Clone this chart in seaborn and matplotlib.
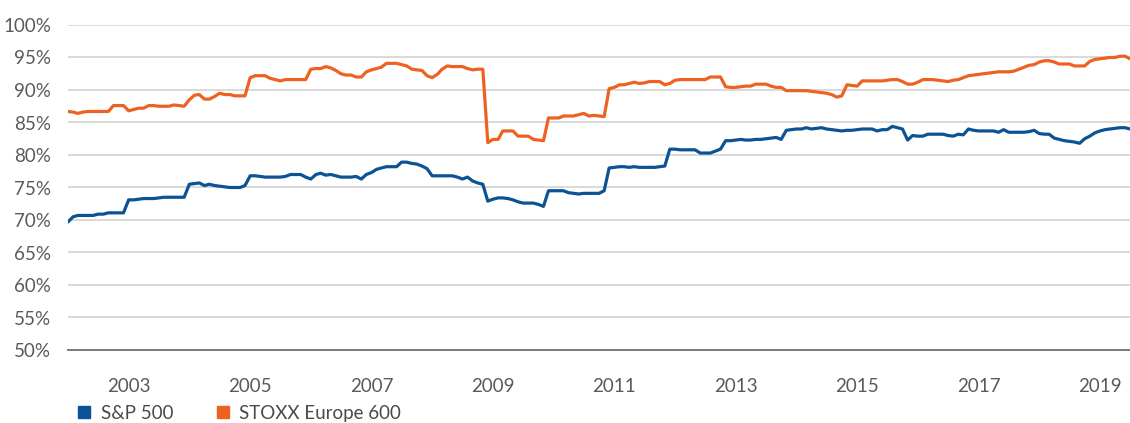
import matplotlib
matplotlib.use("Agg")
import matplotlib.pyplot as plt
import matplotlib.dates as mdates
from matplotlib.lines import Line2D
from matplotlib.ticker import FuncFormatter
import seaborn as sns
import pandas as pd

# monthly observations, Jan 2002 - Jul 2019 (share, %)
months = pd.date_range("2002-01-01", periods=211, freq="MS")

sp500 = [
    69.7, 70.5, 70.7, 70.7, 70.7, 70.7, 70.9, 70.9, 71.1, 71.1, 71.1, 71.1,  # 2002
    73.1, 73.1, 73.2, 73.3, 73.3, 73.3, 73.4, 73.5, 73.5, 73.5, 73.5, 73.5,  # 2003
    75.5, 75.6, 75.7, 75.3, 75.5, 75.3, 75.2, 75.1, 75.0, 75.0, 75.0, 75.3,  # 2004
    76.8, 76.8, 76.7, 76.6, 76.6, 76.6, 76.6, 76.7, 77.0, 77.0, 77.0, 76.6,  # 2005
    76.3, 77.0, 77.2, 76.9, 77.0, 76.8, 76.6, 76.6, 76.6, 76.7, 76.3, 77.0,  # 2006
    77.3, 77.8, 78.0, 78.2, 78.2, 78.2, 78.9, 78.9, 78.7, 78.6, 78.3, 77.9,  # 2007
    76.8, 76.8, 76.8, 76.8, 76.8, 76.6, 76.3, 76.6, 76.0, 75.7, 75.5, 72.9,  # 2008
    73.2, 73.4, 73.4, 73.3, 73.1, 72.8, 72.6, 72.6, 72.6, 72.4, 72.1, 74.5,  # 2009
    74.5, 74.5, 74.5, 74.2, 74.1, 74.0, 74.1, 74.1, 74.1, 74.1, 74.5, 78.0,  # 2010
    78.1, 78.2, 78.2, 78.1, 78.2, 78.1, 78.1, 78.1, 78.1, 78.2, 78.3, 80.9,  # 2011
    80.9, 80.8, 80.8, 80.8, 80.8, 80.3, 80.3, 80.3, 80.6, 80.9, 82.2, 82.2,  # 2012
    82.3, 82.4, 82.3, 82.3, 82.4, 82.4, 82.5, 82.6, 82.7, 82.4, 83.8, 83.9,  # 2013
    84.0, 84.0, 84.2, 84.0, 84.1, 84.2, 84.0, 83.9, 83.8, 83.7, 83.8, 83.8,  # 2014
    83.9, 84.0, 84.0, 84.0, 83.7, 83.9, 83.9, 84.4, 84.2, 84.0, 82.3, 83.0,  # 2015
    82.9, 82.9, 83.2, 83.2, 83.2, 83.2, 83.0, 82.9, 83.2, 83.1, 84.0, 83.8,  # 2016
    83.7, 83.7, 83.7, 83.7, 83.5, 83.9, 83.5, 83.5, 83.5, 83.5, 83.6, 83.8,  # 2017
    83.3, 83.2, 83.2, 82.6, 82.4, 82.2, 82.1, 82.0, 81.8, 82.5, 82.9, 83.4,  # 2018
    83.7, 83.9, 84.0, 84.1, 84.2, 84.2, 84.0,                                # 2019
]

stoxx600 = [
    86.7, 86.6, 86.4, 86.6, 86.7, 86.7, 86.7, 86.7, 86.7, 87.6, 87.6, 87.6,  # 2002
    86.8, 87.0, 87.2, 87.2, 87.6, 87.6, 87.5, 87.5, 87.5, 87.7, 87.6, 87.5,  # 2003
    88.5, 89.2, 89.3, 88.6, 88.6, 89.0, 89.5, 89.3, 89.3, 89.1, 89.1, 89.1,  # 2004
    91.9, 92.2, 92.2, 92.2, 91.8, 91.6, 91.4, 91.6, 91.6, 91.6, 91.6, 91.6,  # 2005
    93.2, 93.3, 93.3, 93.6, 93.4, 93.0, 92.5, 92.3, 92.3, 92.0, 92.0, 92.8,  # 2006
    93.1, 93.3, 93.5, 94.1, 94.1, 94.1, 93.9, 93.7, 93.2, 93.1, 93.0, 92.2,  # 2007
    91.9, 92.4, 93.2, 93.7, 93.6, 93.6, 93.6, 93.3, 93.1, 93.2, 93.2, 81.9,  # 2008
    82.4, 82.4, 83.7, 83.7, 83.7, 82.9, 82.9, 82.9, 82.4, 82.3, 82.2, 85.7,  # 2009
    85.7, 85.7, 86.0, 86.0, 86.0, 86.2, 86.4, 86.0, 86.1, 86.0, 85.9, 90.2,  # 2010
    90.4, 90.8, 90.8, 91.0, 91.2, 91.0, 91.1, 91.3, 91.3, 91.3, 90.8, 91.0,  # 2011
    91.5, 91.6, 91.6, 91.6, 91.6, 91.6, 91.6, 92.0, 92.0, 92.0, 90.5, 90.4,  # 2012
    90.4, 90.5, 90.6, 90.6, 90.9, 90.9, 90.9, 90.6, 90.4, 90.4, 89.9, 89.9,  # 2013
    89.9, 89.9, 89.9, 89.8, 89.7, 89.6, 89.5, 89.3, 88.9, 89.1, 90.8, 90.7,  # 2014
    90.6, 91.4, 91.4, 91.4, 91.4, 91.4, 91.5, 91.6, 91.6, 91.3, 90.9, 90.9,  # 2015
    91.2, 91.6, 91.6, 91.6, 91.5, 91.4, 91.3, 91.5, 91.6, 91.9, 92.2, 92.3,  # 2016
    92.4, 92.5, 92.6, 92.7, 92.8, 92.8, 92.8, 92.9, 93.2, 93.5, 93.8, 93.9,  # 2017
    94.3, 94.5, 94.5, 94.3, 94.0, 94.0, 94.0, 93.7, 93.7, 93.7, 94.4, 94.7,  # 2018
    94.8, 94.9, 95.0, 95.0, 95.2, 95.2, 94.8,                                # 2019
]

series_names = ["S&P 500", "STOXX Europe 600"]
colors = ["#0b5394", "#ee6221"]

df = pd.concat([
    pd.DataFrame({"date": months, "share": sp500, "index": series_names[0]}),
    pd.DataFrame({"date": months, "share": stoxx600, "index": series_names[1]}),
])

sns.set_style("white")
plt.rcParams["font.family"] = ["Lato", "DejaVu Sans"]

fig = plt.figure(figsize=(11.3, 4.23), dpi=100)
ax = fig.add_axes([68 / 1130, 1 - 350 / 423, 1 - 68 / 1130, 325 / 423])

sns.lineplot(data=df, x="date", y="share", hue="index",
             palette=dict(zip(series_names, colors)),
             linewidth=2.3, legend=False, ax=ax)

ax.set_xlim(months[0], months[-1])
ax.set_ylim(50, 100)
ax.set_yticks(range(50, 101, 5))
ax.yaxis.set_major_formatter(FuncFormatter(lambda v, p: f"{v:.0f}%"))

ax.xaxis.set_major_locator(mdates.YearLocator(1))
ax.xaxis.set_major_formatter(FuncFormatter(
    lambda v, p: str(mdates.num2date(v).year) if mdates.num2date(v).year % 2 else ""))

ax.set_xlabel("")
ax.set_ylabel("")
ax.grid(axis="y", color="#d9d9d9", linewidth=1.4)
ax.grid(axis="x", visible=False)
ax.set_axisbelow(True)
for side in ["top", "right", "left"]:
    ax.spines[side].set_visible(False)
ax.spines["bottom"].set_color("#7a7a7a")
ax.spines["bottom"].set_linewidth(1.4)

ax.tick_params(axis="x", direction="out", length=6, width=1.1, color="#555555",
               pad=14, labelsize=13.5, labelcolor="#5a5a5a")
ax.tick_params(axis="y", length=0, pad=12, labelsize=13.5, labelcolor="#5a5a5a")

handles = [Line2D([], [], linestyle="none", marker="s", markersize=8,
                  markerfacecolor=c, markeredgecolor=c) for c in colors]
fig.legend(handles, series_names, loc="center left",
           bbox_to_anchor=(60 / 1130, 10 / 423), ncol=2, frameon=False,
           handlelength=0.8, handletextpad=0.5, columnspacing=2.2,
           fontsize=13.5, labelcolor="#4a4a4a")

fig.savefig("out.png", dpi=100)
